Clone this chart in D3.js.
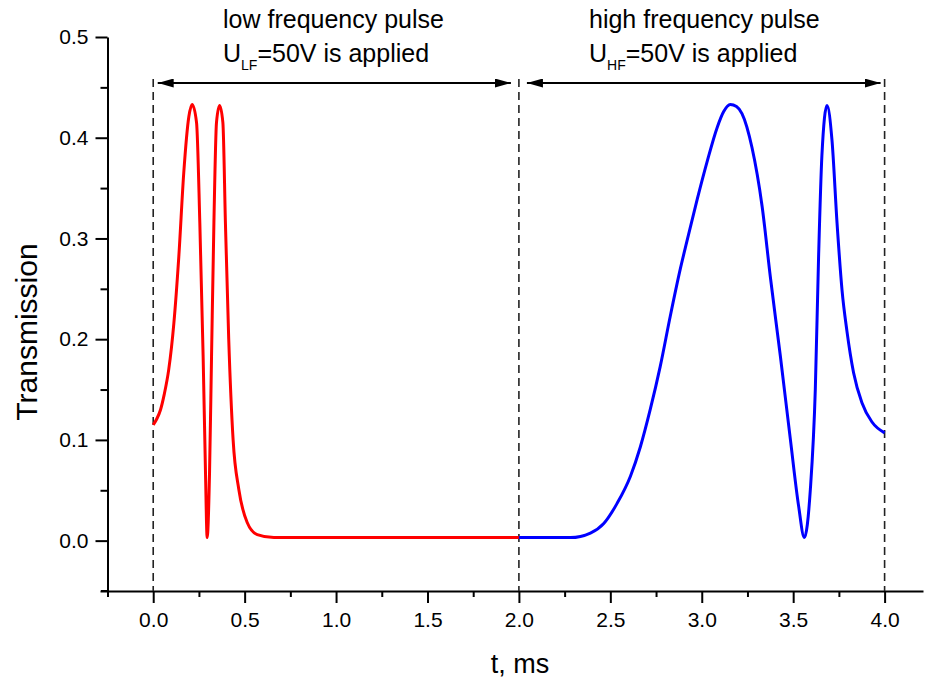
<!DOCTYPE html>
<meta charset="utf-8">
<style>
body { margin: 0; background: #fff; }
text { font-family: "Liberation Sans", Arial, sans-serif; fill: #000; }
.axis path, .axis line { stroke: #000; stroke-width: 2px; }
.axis text { font-size: 21px; font-family: "Liberation Sans", Arial, sans-serif; }
</style>
<svg width="925" height="679"></svg>
<script src="https://d3js.org/d3.v7.min.js"></script>
<script>
// low frequency pulse (red)
var redT = [0, 0.02, 0.04, 0.06, 0.085, 0.113, 0.14, 0.167, 0.195, 0.213, 0.237, 0.255, 0.273, 0.286, 0.295,
            0.308, 0.319, 0.332, 0.346, 0.363, 0.381, 0.395, 0.413, 0.437, 0.468, 0.514, 0.569, 0.66, 1.0, 1.5, 2.0];
var redV = [0.115, 0.121, 0.130, 0.145, 0.170, 0.216, 0.282, 0.365, 0.421, 0.433, 0.415, 0.315, 0.183, 0.067, 0.003,
            0.067, 0.183, 0.316, 0.415, 0.432, 0.415, 0.315, 0.200, 0.100, 0.051, 0.018, 0.006, 0.003, 0.003, 0.003, 0.003];

// high frequency pulse (blue)
var blueT = [2.0, 2.282, 2.391, 2.464, 2.537, 2.61, 2.664, 2.718, 2.773, 2.828, 2.883, 2.92, 2.974, 3.029, 3.084, 3.12, 3.156,
             3.19, 3.22, 3.275, 3.33, 3.375, 3.43, 3.485, 3.53, 3.561, 3.594, 3.621, 3.639, 3.657, 3.685,
             3.712, 3.74, 3.767, 3.794, 3.83, 3.876, 3.93, 4.0];
var blueV = [0.003, 0.003, 0.0075, 0.017, 0.037, 0.064, 0.093, 0.13, 0.173, 0.223, 0.270, 0.298, 0.338, 0.376, 0.410, 0.426, 0.433,
             0.431, 0.424, 0.390, 0.332, 0.262, 0.183, 0.100, 0.034, 0.003, 0.051, 0.150, 0.282, 0.382, 0.432,
             0.398, 0.315, 0.249, 0.208, 0.167, 0.137, 0.118, 0.107];

var xMajor = [0, 0.5, 1.0, 1.5, 2.0, 2.5, 3.0, 3.5, 4.0];
var xMinor = [-0.25, 0.25, 0.75, 1.25, 1.75, 2.25, 2.75, 3.25, 3.75];
var yMajor = [0, 0.1, 0.2, 0.3, 0.4, 0.5];
var yMinor = [-0.05, 0.05, 0.15, 0.25, 0.35, 0.45];
var markers = [0, 2, 4];

var svg = d3.select("svg");

var x = d3.scaleLinear().domain([-0.25, 4.21]).range([107.5, 923]);
var y = d3.scaleLinear().domain([-0.05, 0.5]).range([591, 37]);

var fmt = d3.format(".1f");

// axes
svg.append("g").attr("class", "axis")
    .attr("transform", "translate(0,591)")
    .call(d3.axisBottom(x).tickValues(xMajor).tickFormat(fmt).tickSizeInner(12).tickSizeOuter(0).tickPadding(9));
svg.append("g").attr("class", "axis")
    .attr("transform", "translate(0,591)")
    .call(d3.axisBottom(x).tickValues(xMinor).tickFormat("").tickSizeInner(6).tickSizeOuter(0))
    .select(".domain").remove();
svg.append("line")
    .attr("x1", 101).attr("x2", 108).attr("y1", 591).attr("y2", 591)
    .attr("stroke", "#000").attr("stroke-width", 2);

svg.append("g").attr("class", "axis")
    .attr("transform", "translate(107.5,0)")
    .call(d3.axisLeft(y).tickValues(yMajor).tickFormat(fmt).tickSizeInner(12).tickSizeOuter(0).tickPadding(7));
svg.append("g").attr("class", "axis")
    .attr("transform", "translate(107.5,0)")
    .call(d3.axisLeft(y).tickValues(yMinor).tickFormat("").tickSizeInner(7).tickSizeOuter(0))
    .select(".domain").remove();

// dashed markers
svg.selectAll("line.marker")
    .data(markers)
    .enter()
    .append("line")
    .attr("class", "marker")
    .attr("x1", function(d) { return x(d); })
    .attr("x2", function(d) { return x(d); })
    .attr("y1", 79)
    .attr("y2", 591)
    .attr("stroke", "#222")
    .attr("stroke-width", 1.6)
    .attr("stroke-dasharray", "8,5");

// curves
var line = d3.line()
    .x(function(d) { return x(d[0]); })
    .y(function(d) { return y(d[1]); })
    .curve(d3.curveMonotoneX);

svg.append("path")
    .datum(redT.map(function(t, i) { return [t, redV[i]]; }))
    .attr("d", line)
    .attr("fill", "none")
    .attr("stroke", "#ff0000")
    .attr("stroke-width", 3);

svg.append("path")
    .datum(blueT.map(function(t, i) { return [t, blueV[i]]; }))
    .attr("d", line)
    .attr("fill", "none")
    .attr("stroke", "#0000ff")
    .attr("stroke-width", 3);

// arrows
var defs = svg.append("defs");
defs.append("marker")
    .attr("id", "head")
    .attr("viewBox", "0 0 16 9")
    .attr("refX", 16).attr("refY", 4.5)
    .attr("markerWidth", 16).attr("markerHeight", 9)
    .attr("markerUnits", "userSpaceOnUse")
    .attr("orient", "auto-start-reverse")
    .append("path")
    .attr("d", "M0,0L16,4.5L0,9Z")
    .attr("fill", "#000");

[[0, 2, 4.5, 8], [2, 4, 8, 4]].forEach(function(p) {
    svg.append("line")
        .attr("x1", x(p[0]) + p[2]).attr("x2", x(p[1]) - p[3])
        .attr("y1", 83).attr("y2", 83)
        .attr("stroke", "#000").attr("stroke-width", 2)
        .attr("marker-start", "url(#head)")
        .attr("marker-end", "url(#head)");
});

// annotations
function label(cx, top, sub) {
    svg.append("text").attr("x", cx).attr("y", 28)
        .style("font-size", "25px")
        .text(top);
    var t = svg.append("text").attr("x", cx).attr("y", 62).style("font-size", "25px");
    t.append("tspan").text("U");
    t.append("tspan").attr("dy", 8).style("font-size", "14px").text(sub);
    t.append("tspan").attr("dy", -8).text("=50V is applied");
}
label(223, "low frequency pulse", "LF");
label(589, "high frequency pulse", "HF");

// axis titles
svg.append("text")
    .attr("x", 520).attr("y", 673)
    .attr("text-anchor", "middle")
    .style("font-size", "27px")
    .text("t, ms");

svg.append("text")
    .attr("transform", "translate(37,332) rotate(-90)")
    .attr("text-anchor", "middle")
    .style("font-size", "30px")
    .text("Transmission");
</script>
